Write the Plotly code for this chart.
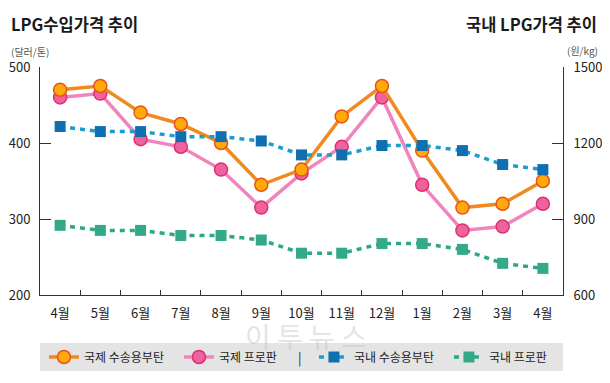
import plotly.graph_objects as go

months = ["4월", "5월", "6월", "7월", "8월", "9월", "10월", "11월", "12월", "1월", "2월", "3월", "4월"]
intl_butane = [470, 475, 440, 425, 400, 345, 365, 435, 475, 390, 315, 320, 350]
intl_propane = [460, 465, 405, 395, 365, 315, 360, 395, 460, 345, 285, 290, 320]
dom_butane = [1265, 1245, 1245, 1225, 1225, 1208, 1153, 1153, 1190, 1190, 1170, 1115, 1095]
dom_propane = [875, 855, 855, 835, 835, 817, 765, 765, 803, 803, 780, 725, 705]
left_ticks = [200, 300, 400, 500]
right_ticks = [600, 900, 1200, 1500]

OFF = 8  # page body margin
W, H = 610 - OFF, 383 - OFF
L, R, T, B = 40 - OFF, 563 - OFF, 67 - OFF, 295 - OFF
FONT = "Noto Sans CJK KR"

def px(x):
    return (x - OFF - L) / (R - L)

def py(y):
    return (B - (y - OFF)) / (B - T)

xs = list(range(len(months)))

fig = go.Figure()
fig.add_trace(go.Scatter(
    x=xs, y=intl_propane, name="국제 프로판", legendrank=2,
    mode="lines+markers", line=dict(color="#f184bd", width=3.5),
    marker=dict(symbol="circle", size=13, color="#f0619f", line=dict(color="#dc2f6c", width=1.5)),
))
fig.add_trace(go.Scatter(
    x=xs, y=intl_butane, name="국제 수송용부탄", legendrank=1,
    mode="lines+markers", line=dict(color="#f08a1f", width=3.5),
    marker=dict(symbol="circle", size=13, color="#ffa90a", line=dict(color="#e8531c", width=1.5)),
))
fig.add_trace(go.Scatter(
    x=xs, y=dom_butane, name="국내 수송용부탄", legendrank=3, yaxis="y2",
    mode="lines+markers", line=dict(color="#1c9dcf", width=3.5, dash="5px,5px"),
    marker=dict(symbol="square", size=11, color="#106fb0"),
))
fig.add_trace(go.Scatter(
    x=xs, y=dom_propane, name="국내 프로판", legendrank=4, yaxis="y2",
    mode="lines+markers", line=dict(color="#2da787", width=3.5, dash="5px,5px"),
    marker=dict(symbol="square", size=11, color="#33a98a"),
))

axis_line = dict(showline=True, linecolor="#333333", linewidth=1, showgrid=False, zeroline=False)

fig.update_layout(
    width=W, height=H,
    margin=dict(l=L, r=W - R, t=T, b=H - B, pad=0, autoexpand=False),
    paper_bgcolor="white", plot_bgcolor="white",
    font=dict(family=FONT, size=13, color="#222222"),
    xaxis=dict(
        **axis_line, range=[-0.5, len(months) - 0.5],
        tickvals=xs, ticktext=months, ticks="", ticklabelstandoff=6, tickangle=0,
        tickfont=dict(size=13, color="#222222"),
        minor=dict(tickvals=[i + 0.5 for i in range(len(months) - 1)], ticks="inside", ticklen=5,
                   tickcolor="#333333", tickwidth=1),
    ),
    yaxis=dict(
        **axis_line, range=[200, 500], tickvals=left_ticks, ticks="inside", ticklen=11,
        tickcolor="#333333", tickfont=dict(size=13, color="#222222"), ticklabelstandoff=6,
    ),
    yaxis2=dict(
        **axis_line, range=[600, 1500], tickvals=right_ticks, ticks="inside", ticklen=11,
        tickcolor="#333333", tickfont=dict(size=13, color="#222222"), ticklabelstandoff=7,
        overlaying="y", side="right",
    ),
    showlegend=True,
    legend=dict(
        orientation="h", x=-0.0001, y=py(357), xanchor="left", yanchor="middle",
        bgcolor="rgba(0,0,0,0)", font=dict(size=12, color="#222222"),
        entrywidth=86, itemwidth=30, tracegroupgap=0, indentation=4,
    ),
)

fig.add_shape(type="rect", xref="paper", yref="paper", x0=0, x1=1, y0=py(371), y1=py(343),
              fillcolor="#e4e4e4", line=dict(width=0), layer="below")

ann = [
    dict(text="LPG수입가격 추이", x=px(9), y=py(24), xanchor="left", yanchor="middle",
         font=dict(size=16.5, color="#1a1a1a", weight="bold")),
    dict(text="국내 LPG가격 추이", x=px(599), y=py(24), xanchor="right", yanchor="middle",
         font=dict(size=16.5, color="#1a1a1a", weight="bold")),
    dict(text="(달러/톤)", x=px(9), y=py(51), xanchor="left", yanchor="middle",
         font=dict(size=10, color="#555555")),
    dict(text="(원/kg)", x=px(600), y=py(50), xanchor="right", yanchor="middle",
         font=dict(size=10, color="#555555")),
    dict(text="이 투 뉴 스", x=px(306), y=py(336), xanchor="center", yanchor="middle",
         font=dict(size=28, color="rgba(195,195,195,0.45)")),
    dict(text="|", x=px(300), y=py(357), xanchor="center", yanchor="middle",
         font=dict(size=13, color="#222222")),
]
for a in ann:
    fig.add_annotation(xref="paper", yref="paper", showarrow=False, **a)

fig.write_html("out.html")
